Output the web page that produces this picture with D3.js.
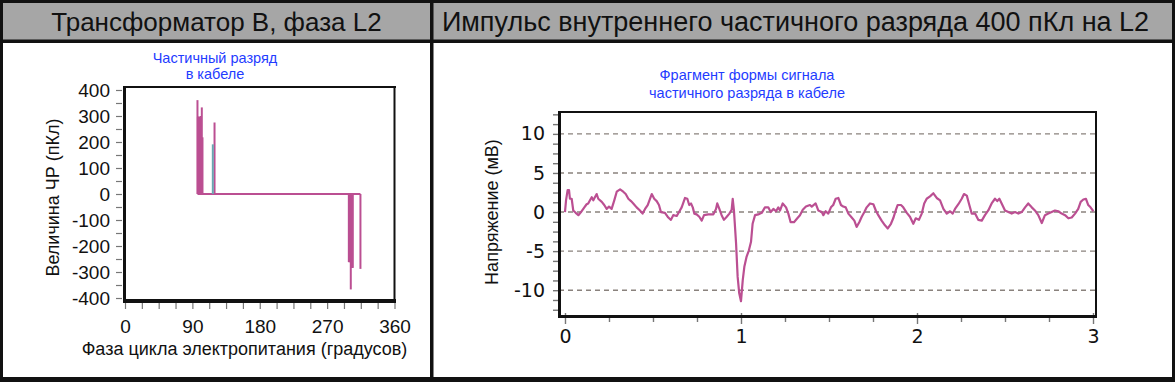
<!DOCTYPE html>
<html>
<head>
<meta charset="utf-8">
<script src="https://cdn.jsdelivr.net/npm/d3@7"></script>
<style>
  body { margin: 0; background: #fff; }
  svg { display: block; }
</style>
</head>
<body>
<svg id="chart" width="1175" height="382"></svg>
<script>
// ---- data ----
// left chart: PD pulses vs phase (deg, pC)
var pulsePhase = [96.8, 97.4, 98.1, 98.8, 99.5, 100.2, 100.8, 101.5, 102.6, 103.5, 119.6,
                  299.0, 299.7, 300.4, 301.1, 301.6, 302.3, 303.0, 303.6, 304.2, 314.5];
var pulseCharge = [361, 297, 297, 297, 297, 297, 250, 300, 333, 218, 275,
                   -262, -262, -262, -262, -367, -262, -284, -284, -284, -288];
var cablePhase = [117.3];
var cableCharge = [191];

var phaseTicks = [0, 90, 180, 270, 360];
var chargeTicks = [-400, -300, -200, -100, 0, 100, 200, 300, 400];

// right chart: waveform fragment (time units, mV)
var timeVals = [0.000, 0.006, 0.015, 0.023, 0.028, 0.038, 0.047, 0.061, 0.076, 0.091, 0.110, 0.123, 0.132, 0.142, 0.152,
  0.161, 0.170, 0.180, 0.189, 0.209, 0.223, 0.237, 0.250, 0.265, 0.280, 0.294, 0.313, 0.331, 0.345, 0.360, 0.375,
  0.388, 0.407, 0.426, 0.441, 0.455, 0.470, 0.483, 0.493, 0.507, 0.521, 0.534, 0.545, 0.568, 0.587, 0.602, 0.615,
  0.635, 0.648, 0.663, 0.682, 0.695, 0.706, 0.716, 0.726, 0.735, 0.748, 0.763, 0.777, 0.790, 0.814, 0.843, 0.858,
  0.865, 0.877, 0.890, 0.903, 0.919, 0.934, 0.947, 0.953, 0.960, 0.972, 0.981, 0.990, 1.000, 1.010, 1.019, 1.032,
  1.045, 1.057, 1.066, 1.080, 1.098, 1.118, 1.136, 1.155, 1.169, 1.184, 1.199, 1.212, 1.222, 1.237, 1.256, 1.269,
  1.282, 1.301, 1.320, 1.335, 1.351, 1.369, 1.392, 1.402, 1.424, 1.439, 1.459, 1.468, 1.481, 1.496, 1.511, 1.524,
  1.538, 1.553, 1.568, 1.581, 1.595, 1.610, 1.629, 1.644, 1.657, 1.672, 1.686, 1.701, 1.714, 1.733, 1.752, 1.766,
  1.780, 1.799, 1.818, 1.834, 1.852, 1.865, 1.879, 1.890, 1.909, 1.922, 1.942, 1.960, 1.979, 1.993, 2.011, 2.027,
  2.041, 2.055, 2.074, 2.093, 2.112, 2.131, 2.150, 2.169, 2.188, 2.203, 2.216, 2.235, 2.254, 2.267, 2.283, 2.295,
  2.311, 2.330, 2.348, 2.368, 2.386, 2.405, 2.424, 2.443, 2.456, 2.468, 2.481, 2.500, 2.519, 2.538, 2.557, 2.576,
  2.595, 2.614, 2.632, 2.652, 2.670, 2.689, 2.709, 2.727, 2.746, 2.765, 2.784, 2.803, 2.822, 2.841, 2.860, 2.879,
  2.898, 2.916, 2.930, 2.945, 2.960, 2.973, 2.986, 3.002];
var voltage = [0, 1.5, 2.8, 2.8, 1.7, 1.7, 0.2, -0.1, -0.4, 0, 0.6, 1.0, 1.1, 1.5, 1.9,
  1.5, 1.9, 2.3, 1.7, 1.3, 0.9, 0.4, 0.7, 0.4, 1.5, 2.6, 2.9, 2.6, 2.3, 1.7, 1.4,
  1.1, 0.6, 0.2, -0.2, 0.4, 0.9, 1.7, 2.3, 1.7, 1.4, 0.9, 0, -0.1, -0.7, -1.0, -0.4,
  -0.5, 0, 0.6, 1.8, 1.7, 0.9, 1.1, 0.6, -0.2, -0.3, -0.6, -1.1, -0.4, -0.3, -0.3, 0.4,
  1.1, 0.4, -0.4, -1.0, -0.6, -0.2, 0.3, 1.7, 0.2, -4.0, -8.3, -10.4, -11.4, -8.7, -7.0, -5.7,
  -4.9, -3.8, -1.5, -0.4, -0.3, -0.1, 0.6, 0.6, 0, 0.4, 0.1, 0.6, 0.2, 1.1, 0.6, -0.2,
  -1.3, -1.3, -0.8, -0.4, 0.3, 0.7, 0.9, 0.7, 1.1, 0.2, 0, -0.4, 0.1, -0.2, 0.6, 0.9,
  1.7, 1.8, 0.9, 0.7, 0.6, -0.2, -0.7, -1.1, -1.9, -1.3, -0.6, 0, 0.6, 1.1, 1.0, 0.2,
  -0.4, -1.1, -1.7, -2.1, -1.5, -0.8, 0.2, 0.9, 0.9, 0.6, -0.1, -0.6, -1.5, -0.8, -1.0, -0.2,
  1.1, 1.7, 2.0, 2.4, 1.8, 1.5, 0.4, -0.2, 0.1, -0.2, 0.4, 1.0, 1.7, 2.3, 2.1, 1.1,
  -0.2, -0.2, -1.0, -1.1, -0.4, 0.2, 1.1, 1.7, 1.4, 1.7, 1.1, 0.2, 0, -0.2, 0, -0.2,
  0, 0.6, 1.1, 0.6, 0.2, -0.4, -1.4, -0.4, -0.2, 0, 0.2, 0.1, -0.2, -0.4, -0.8, -0.7,
  -0.2, 0.4, 1.3, 1.6, 1.7, 0.9, 0.6, 0.1];

var timeTicks = [0, 1, 2, 3];
var voltTicks = [-10, -5, 0, 5, 10];

var titleLeft = "Трансформатор В, фаза L2";
var titleRight = "Импульс внутреннего частичного разряда 400 пКл на L2";

// ---- drawing ----
var FONT = "'Liberation Sans', Arial, sans-serif";
var pink = "#bb4f92", teal = "#6aa7b0", blue = "#1f3cff";

var svg = d3.select("#chart");

// frame & header bands
svg.append("rect").attr("width", 1175).attr("height", 382).attr("fill", "#111");
svg.append("rect").attr("x", 3).attr("y", 3).attr("width", 427).attr("height", 36.5).attr("fill", "#a6a6a6");
svg.append("rect").attr("x", 433.5).attr("y", 3).attr("width", 738.5).attr("height", 36.5).attr("fill", "#a6a6a6");
svg.append("rect").attr("x", 3).attr("y", 43).attr("width", 427).attr("height", 334).attr("fill", "#fff");
svg.append("rect").attr("x", 433.5).attr("y", 43).attr("width", 738.5).attr("height", 334).attr("fill", "#fff");

svg.append("text").attr("x", 216.5).attr("y", 31).attr("text-anchor", "middle")
    .style("font", "26px " + FONT).attr("fill", "#111").text(titleLeft);
svg.append("text").attr("x", 795.5).attr("y", 31).attr("text-anchor", "middle")
    .style("font", "27px " + FONT).attr("fill", "#111").text(titleRight);

// ===== left chart =====
var xL = d3.scaleLinear().domain([0, 360]).range([125, 394.5]);
var yL = d3.scaleLinear().domain([-411.5, 411.5]).range([301, 87]);

var gL = svg.append("g");

// zero trace across the pulse range
var allPhase = pulsePhase.concat(cablePhase);
gL.append("line")
    .attr("x1", xL(d3.min(allPhase))).attr("x2", xL(d3.max(allPhase)))
    .attr("y1", yL(0)).attr("y2", yL(0))
    .attr("stroke", pink).attr("stroke-width", 2);

gL.selectAll(".pulse").data(d3.range(pulsePhase.length)).enter().append("line")
    .attr("class", "pulse")
    .attr("x1", function(i) { return xL(pulsePhase[i]); })
    .attr("x2", function(i) { return xL(pulsePhase[i]); })
    .attr("y1", yL(0))
    .attr("y2", function(i) { return yL(pulseCharge[i]); })
    .attr("stroke", pink).attr("stroke-width", 2);

gL.selectAll(".cable").data(d3.range(cablePhase.length)).enter().append("line")
    .attr("class", "cable")
    .attr("x1", function(i) { return xL(cablePhase[i]); })
    .attr("x2", function(i) { return xL(cablePhase[i]); })
    .attr("y1", yL(0))
    .attr("y2", function(i) { return yL(cableCharge[i]); })
    .attr("stroke", teal).attr("stroke-width", 2);

// axes
var axL = gL.append("g").attr("transform", "translate(122,0)")
    .call(d3.axisLeft(yL).tickValues(d3.range(-400, 401, 50)).tickSize(6).tickPadding(6)
        .tickFormat(function(d) { return d % 100 === 0 ? String(d) : ""; }));
var axB = gL.append("g").attr("transform", "translate(0,303)")
    .call(d3.axisBottom(xL).tickValues(d3.range(0, 361, 22.5)).tickSize(6).tickPadding(11)
        .tickFormat(function(d) { return phaseTicks.indexOf(d) >= 0 ? String(d) : ""; }));
[axL, axB].forEach(function(a) {
    a.select(".domain").remove();
    a.selectAll(".tick line").attr("stroke", "#777").attr("stroke-width", 1.2);
    a.selectAll("text").style("font", "19px " + FONT).attr("fill", "#111");
});

// plot frame
gL.append("line").attr("x1", 123).attr("x2", 396).attr("y1", 87).attr("y2", 87).attr("stroke", "#111").attr("stroke-width", 2);
gL.append("line").attr("x1", 394.5).attr("x2", 394.5).attr("y1", 86).attr("y2", 302).attr("stroke", "#111").attr("stroke-width", 2);
gL.append("line").attr("x1", 124.5).attr("x2", 124.5).attr("y1", 86).attr("y2", 303).attr("stroke", "#111").attr("stroke-width", 3);
gL.append("line").attr("x1", 123).attr("x2", 396).attr("y1", 301).attr("y2", 301).attr("stroke", "#111").attr("stroke-width", 4);

gL.append("text").attr("transform", "translate(59,197.5) rotate(-90)").attr("text-anchor", "middle")
    .style("font", "18px " + FONT).attr("fill", "#111").text("Величина ЧР (пКл)");
gL.append("text").attr("x", 244.5).attr("y", 355).attr("text-anchor", "middle")
    .style("font", "18px " + FONT).attr("fill", "#111").text("Фаза цикла электропитания (градусов)");

gL.append("text").attr("x", 215).attr("y", 63).attr("text-anchor", "middle")
    .style("font", "14.5px " + FONT).attr("fill", blue).text("Частичный разряд");
gL.append("text").attr("x", 215).attr("y", 79).attr("text-anchor", "middle")
    .style("font", "14.5px " + FONT).attr("fill", blue).text("в кабеле");

// ===== right chart =====
var xR = d3.scaleLinear().domain([-0.034, 3.017]).range([559, 1096]);
var yR = d3.scaleLinear().domain([-13.3, 12.8]).range([316, 112]);

var gR = svg.append("g");

gR.selectAll(".grid").data(voltTicks).enter().append("line")
    .attr("class", "grid")
    .attr("x1", xR(-0.034)).attr("x2", xR(3.017))
    .attr("y1", function(d) { return yR(d); }).attr("y2", function(d) { return yR(d); })
    .attr("stroke", "#8a827d").attr("stroke-width", 1.4).attr("stroke-dasharray", "5,4");

var line = d3.line()
    .x(function(i) { return xR(timeVals[i]); })
    .y(function(i) { return yR(voltage[i]); });

gR.append("path")
    .attr("d", line(d3.range(timeVals.length)))
    .attr("fill", "none").attr("stroke", pink).attr("stroke-width", 2.2)
    .attr("stroke-linejoin", "round");

var axR = gR.append("g").attr("transform", "translate(558,0)")
    .call(d3.axisLeft(yR).tickValues(d3.range(-12.5, 12.6, 1.25)).tickSize(5).tickPadding(8)
        .tickFormat(function(d) { return voltTicks.indexOf(d) >= 0 ? String(d) : ""; }));
var axRB = gR.append("g").attr("transform", "translate(0,317)")
    .call(d3.axisBottom(xR).tickValues(d3.range(0, 3.01, 0.25)).tickSize(5).tickPadding(8)
        .tickFormat(function(d) { return timeTicks.indexOf(d) >= 0 ? String(d) : ""; }));
[axR, axRB].forEach(function(a) {
    a.select(".domain").remove();
    a.selectAll(".tick line").attr("stroke", "#777").attr("stroke-width", 1.4);
    a.selectAll("text").style("font", "19px 'DejaVu Sans', sans-serif").attr("fill", "#111");
});
// integer ticks cross the axis
axRB.selectAll(".tick").filter(function(d) { return timeTicks.indexOf(d) >= 0; })
    .select("line").attr("y1", -4).attr("y2", 7);

gR.append("line").attr("x1", 558).attr("x2", 1097).attr("y1", 112).attr("y2", 112).attr("stroke", "#111").attr("stroke-width", 2);
gR.append("line").attr("x1", 1096).attr("x2", 1096).attr("y1", 111).attr("y2", 317).attr("stroke", "#111").attr("stroke-width", 2);
gR.append("line").attr("x1", 559.5).attr("x2", 559.5).attr("y1", 111).attr("y2", 318).attr("stroke", "#111").attr("stroke-width", 3);
gR.append("line").attr("x1", 558).attr("x2", 1097).attr("y1", 316.5).attr("y2", 316.5).attr("stroke", "#111").attr("stroke-width", 3);

gR.append("text").attr("transform", "translate(498,212) rotate(-90)").attr("text-anchor", "middle")
    .style("font", "18px " + FONT).attr("fill", "#111").text("Напряжение (мВ)");

gR.append("text").attr("x", 747).attr("y", 80).attr("text-anchor", "middle")
    .style("font", "14.5px " + FONT).attr("fill", blue).text("Фрагмент формы сигнала");
gR.append("text").attr("x", 747).attr("y", 98).attr("text-anchor", "middle")
    .style("font", "14.5px " + FONT).attr("fill", blue).text("частичного разряда в кабеле");
</script>
</body>
</html>
